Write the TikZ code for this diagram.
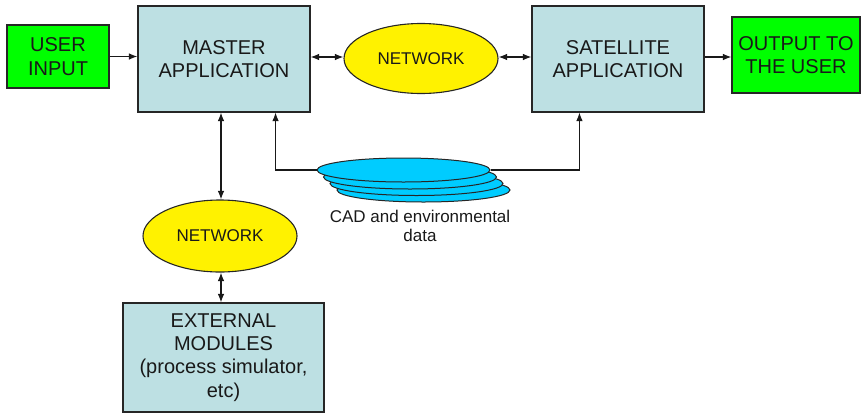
\documentclass[tikz,border=0pt]{standalone}
\usepackage{fontspec}
\setmainfont{Liberation Sans}
\usetikzlibrary{shapes.geometric,arrows.meta,calc}
\definecolor{boxblue}{HTML}{BDE0E3}
\definecolor{brightgreen}{HTML}{00FF00}
\definecolor{diskcyan}{HTML}{00CCFF}
\tikzset{
  base/.style={draw=black!85, line width=1.1pt, inner sep=0pt, align=center, text=black!90},
  bigtxt/.style={font=\fontsize{20}{23.3}\selectfont},
  smalltxt/.style={font=\fontsize{17}{19.5}\selectfont},
  appbox/.style={base, bigtxt, fill=boxblue, rectangle},
  iobox/.style={base, bigtxt, fill=brightgreen, rectangle},
  netell/.style={base, smalltxt, fill=yellow, ellipse},
  disk/.style={draw=black!85, line width=1pt, fill=diskcyan, ellipse, inner sep=0pt, minimum width=173pt, minimum height=24pt},
  conn/.style={draw=black!90, line width=1.1pt},
  tip/.tip={Latex[length=8.5pt,width=6.5pt]}
}
\begin{document}
\begin{tikzpicture}[x=1pt,y=-1pt]
\useasboundingbox (0,0) rectangle (861,413);
% nodes
\node[iobox, minimum width=102pt, minimum height=63pt] (u) at (58,56.5) {USER\\INPUT};
\node[appbox, minimum width=172pt, minimum height=106pt] (m) at (224,59) {MASTER\\APPLICATION};
\node[netell, minimum width=154pt, minimum height=70pt] (n1) at (421,58.5) {NETWORK};
\node[appbox, minimum width=172pt, minimum height=106pt] (s) at (618,59) {SATELLITE\\APPLICATION};
\node[iobox, minimum width=128pt, minimum height=76pt] (o) at (796,55) {OUTPUT TO\\THE USER};
\node[netell, minimum width=154pt, minimum height=72pt] (n2) at (220,236) {NETWORK};
\node[appbox, minimum width=201pt, minimum height=109pt] (e) at (223.5,357.5) {EXTERNAL\\MODULES\\(process simulator,\\etc)};
% disk stack
\node[disk] (d3) at (423.5,190) {};
\node[disk] (d2) at (416.5,183.5) {};
\node[disk] (d1) at (410,177) {};
\node[disk] (d) at (403.5,170) {};
\node[smalltxt, align=center, inner sep=0pt, text=black!90] (lbl) at (420,226) {CAD and environmental\\data};
% coordinates on box bottoms
\coordinate (mport) at ($(m.south east)+(-35,0)$);
\coordinate (sport) at ($(s.south west)+(48,0)$);
% connectors
\draw[conn, -tip] (u.east) -- (u.east -| m.west);
\draw[conn, tip-tip] (m.east |- 0,57) -- (n1.west |- 0,57);
\draw[conn, tip-tip] (n1.east |- 0,57) -- (s.west |- 0,57);
\draw[conn, -tip] (s.east |- 0,57) -- (o.west |- 0,57);
\draw[conn, tip-tip] (n2.north -| 221,0) -- (m.south -| 221,0);
\draw[conn, tip-tip] (n2.south -| 221,0) -- (e.north -| 221,0);
\draw[conn, -tip] (d.west) -| (mport);
\draw[conn, -tip] (d.east) -| (sport);
\end{tikzpicture}
\end{document}
